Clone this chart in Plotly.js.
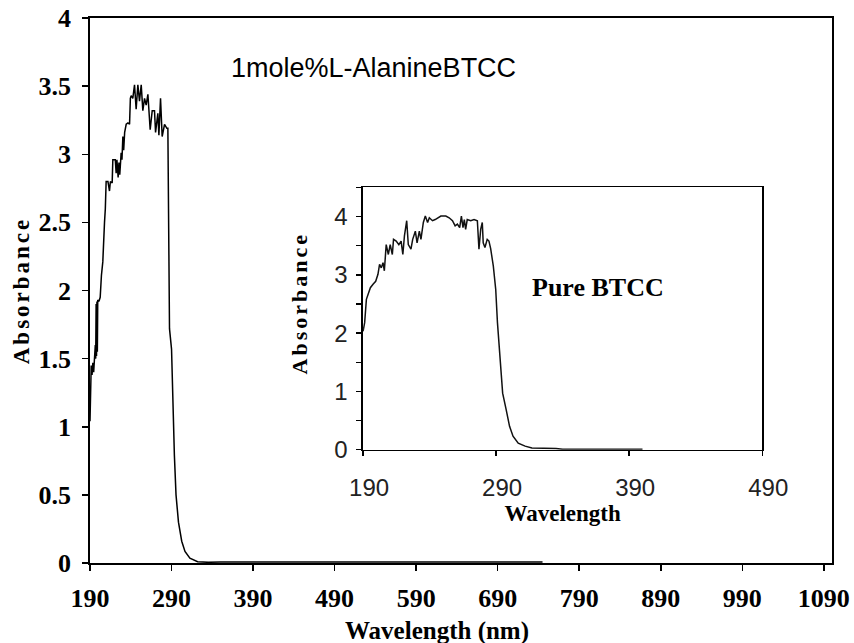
<!DOCTYPE html>
<html>
<head>
<meta charset="utf-8">
<script src="https://cdn.plot.ly/plotly-3.0.1.min.js"></script>
<style>
  html, body { margin: 0; padding: 0; background: #fff; }
  #chart { width: 854px; height: 643px; }
  .ytitle { letter-spacing: 3px; }
  .annotation-text.spaced { letter-spacing: 3px; }
</style>
</head>
<body>
<div id="chart"></div>
<script>
// Main spectrum: 1 mole% L-Alanine doped BTCC
var mainWavelength = [190, 190.5, 191.5, 192.5, 193.5, 194.5, 195.5, 196.5, 197, 197.5, 198, 198.5, 199, 199.5, 201, 202.5, 204, 205.7, 207.8, 208.8, 209.8, 212, 213.9, 215, 217.2, 218, 221, 222.1, 223, 224.5, 225.5, 226.5, 228.2, 229.2, 230.3, 231.3, 232.5, 234.4, 236.5, 238.5, 239.5, 240.5, 242.5, 244.6, 246.6, 248.7, 250.7, 252.8, 254.8, 256.9, 258.9, 261, 263.8, 266.3, 269.1, 270.4, 273.2, 274.5, 276.5, 278.5, 281.4, 284.3, 285.5, 286.5, 287.5, 290, 291.5, 293.5, 295.5, 298.5, 302.5, 306.5, 312.5, 322, 335, 350, 400, 450, 500, 550, 600, 650, 700, 745];
var mainAbsorbance = [1.04, 1.35, 1.45, 1.38, 1.47, 1.40, 1.56, 1.60, 1.50, 1.90, 1.52, 1.92, 1.55, 1.93, 1.92, 1.95, 2.11, 2.21, 2.50, 2.60, 2.80, 2.80, 2.73, 2.80, 2.79, 2.96, 2.96, 2.86, 2.96, 2.83, 2.94, 2.85, 3.01, 2.96, 3.13, 3.03, 3.16, 3.22, 3.23, 3.22, 3.41, 3.43, 3.41, 3.51, 3.33, 3.51, 3.39, 3.51, 3.32, 3.41, 3.36, 3.44, 3.18, 3.32, 3.32, 3.16, 3.30, 3.14, 3.41, 3.13, 3.22, 3.19, 3.19, 2.30, 1.72, 1.57, 1.18, 0.79, 0.50, 0.30, 0.16, 0.085, 0.035, 0.01, 0.005, 0.008, 0.007, 0.008, 0.007, 0.008, 0.007, 0.008, 0.007, 0.008];

// Inset spectrum: pure BTCC
var insetWavelength = [190, 191.2, 192.5, 193.7, 195.5, 197.5, 199.5, 201.2, 202.4, 203.7, 205, 206, 207.4, 209, 210.4, 212, 212.9, 214.9, 216.9, 218.6, 219.9, 221.1, 222.8, 224, 226, 227.3, 229.3, 230.6, 232.3, 233.5, 235.3, 236.8, 238.5, 239.8, 242.2, 244.2, 246, 248.5, 252.2, 254.7, 257.2, 259.2, 260.9, 262.6, 263.9, 265.1, 266.1, 267.1, 268.3, 270.9, 273.4, 275.9, 277.1, 278.4, 279.6, 280.3, 281.6, 283.3, 284.6, 285.9, 287.9, 289.7, 291, 293.1, 294.9, 297.5, 300.1, 302.7, 306.6, 311.8, 316.9, 335, 340, 400];
var insetAbsorbance = [2.03, 2.18, 2.58, 2.66, 2.78, 2.84, 2.89, 3.01, 3.18, 3.12, 3.21, 3.07, 3.52, 3.35, 3.52, 3.35, 3.61, 3.58, 3.52, 3.58, 3.35, 3.67, 3.93, 3.52, 3.44, 3.61, 3.75, 3.55, 3.75, 3.61, 3.90, 4.01, 3.90, 3.98, 3.93, 3.95, 3.98, 4.01, 4.01, 3.98, 3.93, 3.84, 3.87, 3.81, 4.01, 3.81, 3.95, 3.78, 3.95, 3.93, 3.95, 3.93, 3.44, 3.78, 3.90, 3.55, 3.47, 3.61, 3.58, 3.45, 3.15, 2.75, 2.18, 1.43, 0.97, 0.69, 0.40, 0.23, 0.11, 0.06, 0.03, 0.02, 0.005, 0.005];

// Tick values
var mainXTicks = [190, 290, 390, 490, 590, 690, 790, 890, 990, 1090];
var mainYTicks = [0, 0.5, 1, 1.5, 2, 2.5, 3, 3.5, 4];
var insetXTicks = [190, 290, 390, 490];
var insetYTicks = [0, 1, 2, 3, 4];

// Text
var mainLabel = '1mole%L-AlanineBTCC';
var insetLabel = 'Pure BTCC';
var yTitle = 'Absorbance';
var mainXTitle = 'Wavelength (nm)';
var insetXTitle = 'Wavelength';

var serif = 'Liberation Serif, Times New Roman, serif';
var sans = 'Liberation Sans, Arial, sans-serif';

var traces = [
  {
    x: mainWavelength, y: mainAbsorbance, xaxis: 'x', yaxis: 'y',
    type: 'scatter', mode: 'lines',
    line: {color: '#000', width: 1.5}, showlegend: false, hoverinfo: 'skip'
  },
  {
    x: insetWavelength, y: insetAbsorbance, xaxis: 'x2', yaxis: 'y2',
    type: 'scatter', mode: 'lines',
    line: {color: '#111', width: 1.5}, showlegend: false, hoverinfo: 'skip'
  }
];

var layout = {
  width: 854, height: 643,
  margin: {l: 90, r: 22, t: 18, b: 80},
  paper_bgcolor: '#fff', plot_bgcolor: '#fff',
  showlegend: false,
  xaxis: {
    range: [190, 1100], tickvals: mainXTicks, ticktext: mainXTicks.map(String),
    ticks: 'outside', ticklen: 6, tickwidth: 1.5, tickcolor: '#000',
    showline: true, linecolor: '#000', linewidth: 1.8, mirror: true,
    showgrid: false, zeroline: false, fixedrange: true,
    tickfont: {family: serif, size: 26, color: '#000', weight: 'bold'},
    ticklabelstandoff: 5
  },
  yaxis: {
    range: [0, 4], tickvals: mainYTicks, ticktext: mainYTicks.map(String),
    ticks: 'outside', ticklen: 6, tickwidth: 1.5, tickcolor: '#000',
    showline: true, linecolor: '#000', linewidth: 1.8, mirror: true,
    showgrid: false, zeroline: false, fixedrange: true,
    tickfont: {family: serif, size: 26, color: '#000', weight: 'bold'},
    ticklabelstandoff: 6,
    title: {text: yTitle, font: {family: serif, size: 23, color: '#000', weight: 'bold'}, standoff: 2}
  },
  xaxis2: {
    domain: [0.368, 0.906], anchor: 'y2',
    range: [190, 490], tickvals: insetXTicks, ticktext: insetXTicks.map(String),
    ticks: 'outside', ticklen: 5, tickwidth: 1.5, tickcolor: '#000',
    showline: true, linecolor: '#000', linewidth: 1.6, mirror: true,
    showgrid: false, zeroline: false, fixedrange: true,
    tickfont: {family: sans, size: 24, color: '#222'},
    ticklabelstandoff: 11, ticklabelshift: 6,
    title: {text: insetXTitle, font: {family: serif, size: 23, color: '#000', weight: 'bold'}, standoff: 0}
  },
  yaxis2: {
    domain: [0.208, 0.689], anchor: 'x2',
    range: [0, 4.5], tickvals: insetYTicks, ticktext: insetYTicks.map(String),
    ticks: 'outside', ticklen: 5, tickwidth: 1.5, tickcolor: '#000',
    minor: {dtick: 0.5, ticks: 'outside', ticklen: 5, tickwidth: 1.5, tickcolor: '#000'},
    showline: true, linecolor: '#000', linewidth: 1.6, mirror: true,
    showgrid: false, zeroline: false, fixedrange: true,
    tickfont: {family: sans, size: 24, color: '#222'},
    ticklabelstandoff: 4
  },
  annotations: [
    {
      text: mainLabel, xref: 'paper', yref: 'paper', x: 0.382, y: 0.909,
      xanchor: 'center', yanchor: 'middle', showarrow: false,
      font: {family: sans, size: 27, color: '#000'}
    },
    {
      text: insetLabel, xref: 'paper', yref: 'paper', x: 0.684, y: 0.505,
      xanchor: 'center', yanchor: 'middle', showarrow: false,
      font: {family: serif, size: 26, color: '#000', weight: 'bold'}
    },
    {
      text: mainXTitle, xref: 'paper', yref: 'paper', x: 0.468, y: -0.124,
      xanchor: 'center', yanchor: 'middle', showarrow: false,
      font: {family: serif, size: 25, color: '#000', weight: 'bold'}
    },
    {
      text: yTitle, xref: 'paper', yref: 'paper', x: 0.283, y: 0.478,
      xanchor: 'center', yanchor: 'middle', showarrow: false, textangle: -90,
      font: {family: serif, size: 22, color: '#000', weight: 'bold'}
    }
  ]
};

Plotly.newPlot('chart', traces, layout, {staticPlot: true, displayModeBar: false}).then(function () {
  var ann = document.querySelectorAll('.annotation-text');
  if (ann.length >= 4) { ann[3].style.letterSpacing = '3px'; }
});
</script>
</body>
</html>
